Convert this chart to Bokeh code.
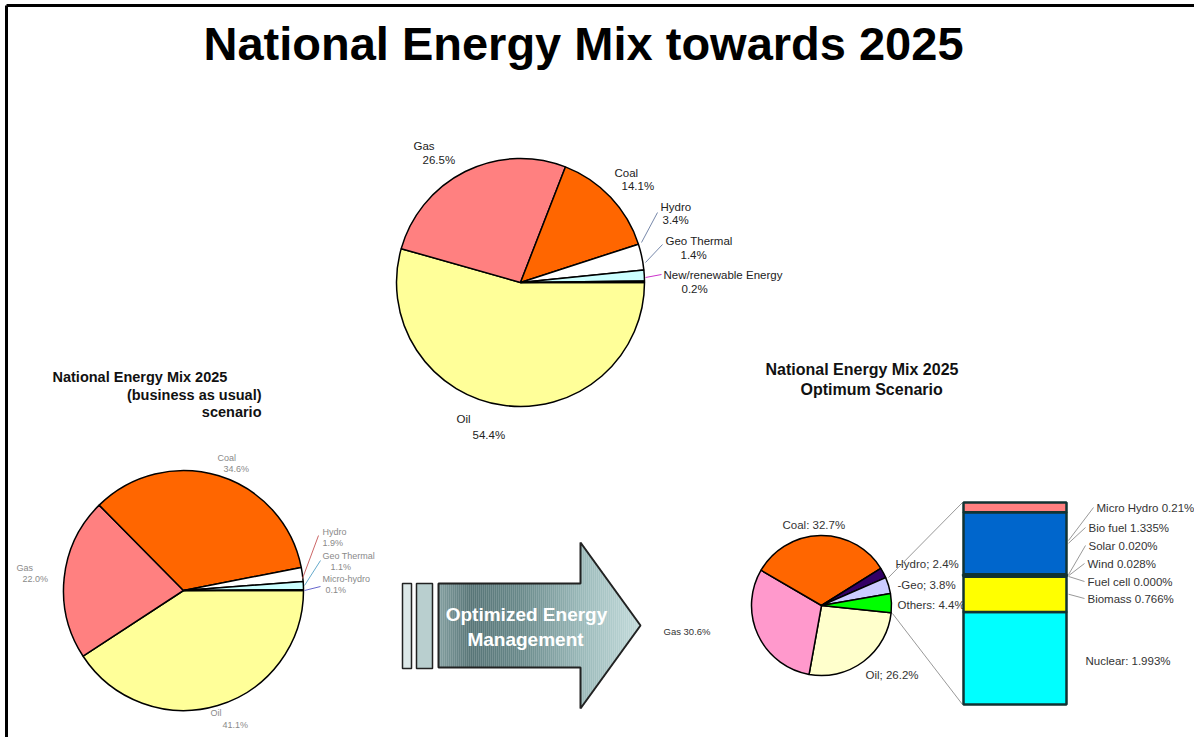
import numpy as np
from bokeh.plotting import figure
from bokeh.models import Range1d, ColumnDataSource
from bokeh.core.properties import value
from bokeh.embed import file_html
from bokeh.resources import INLINE

# ---------------- data ----------------
title = "National Energy Mix towards 2025"

# current mix (top pie)
now_labels = ["Oil", "Gas", "Coal", "Hydro", "Geo Thermal", "New/renewable Energy"]
now_values = [54.4, 26.5, 14.1, 3.4, 1.4, 0.2]
now_colors = ["#ffff99", "#ff8080", "#ff6600", "#ffffff", "#ccffff", "#4d0a4d"]

# 2025 business as usual (bottom-left pie)
bau_labels = ["Oil", "Gas", "Coal", "Hydro", "Geo Thermal", "Micro-hydro"]
bau_values = [41.1, 22.0, 34.6, 1.9, 1.1, 0.1]
bau_colors = ["#ffff99", "#ff8080", "#ff6600", "#ffffff", "#ccffff", "#4d0a4d"]

# 2025 optimum scenario (bottom-right pie)
opt_labels = ["Oil", "Gas", "Coal", "Hydro", "Geo", "Others"]
opt_values = [26.2, 30.6, 32.7, 2.4, 3.8, 4.4]
opt_colors = ["#ffffcc", "#ff99cc", "#ff6600", "#330066", "#ccccff", "#00ff00"]

# breakdown of "Others" (stacked bar, bottom to top)
oth_labels = ["Nuclear", "Biomass", "Fuel cell", "Wind", "Solar", "Bio fuel", "Micro Hydro"]
oth_values = [1.993, 0.766, 0.000, 0.028, 0.020, 1.335, 0.21]
oth_text = ["Nuclear: 1.993%", "Biomass 0.766%", "Fuel cell 0.000%", "Wind 0.028%",
            "Solar 0.020%", "Bio fuel 1.335%", "Micro Hydro 0.21%"]
oth_colors = ["#00ffff", "#ffff00", "#ccffcc", "#99ccff", "#ffcc00", "#0066cc", "#ff8080"]

# ---------------- figure ----------------
W, H = 1194, 737
p = figure(width=W, height=H, x_range=Range1d(0, W), y_range=Range1d(0, H),
           output_backend="svg", toolbar_location=None, min_border=0)
p.axis.visible = False
p.grid.visible = False
p.outline_line_color = None
p.background_fill_color = "white"
p.border_fill_color = "white"

FONT = value("Liberation Sans")


def Y(yi):
    return H - yi


def txt(x, yi, s, size=10, color="#222222", align="left", bold=False, base="middle"):
    p.text(x=[x], y=[Y(yi)], text=[s], text_font=FONT, text_font_size=f"{size}px",
           text_color=color, text_align=align, text_baseline=base,
           text_font_style="bold" if bold else "normal")


def pie(cx, cyi, r, vals, cols, start_deg):
    v = np.array(vals, dtype=float)
    frac = v / v.sum()
    bounds = np.radians(start_deg) - np.concatenate([[0], np.cumsum(frac)]) * 2 * np.pi
    src = ColumnDataSource(dict(start=bounds[1:], end=bounds[:-1], color=cols))
    p.wedge(x=cx, y=Y(cyi), radius=r, start_angle="start", end_angle="end",
            direction="anticlock", fill_color="color", line_color="black",
            line_width=1.5, source=src)


def seg(xs, yis, color="#666666", w=1):
    p.line(x=xs, y=[Y(v) for v in yis], line_color=color, line_width=w)


# frame
seg([6, 6], [5, 737], color="black", w=3)
seg([6, 1194], [5, 5], color="black", w=3)

# title
txt(583, 43, title, size=47, color="#000000", align="center", bold=True)

# ---- top pie ----
pie(520, 282, 124, now_values, now_colors, 0)
ts = 11.5
txt(413, 145, "Gas", ts)
txt(422, 159, "26.5%", ts)
txt(614, 172, "Coal", ts)
txt(621, 185, "14.1%", ts)
txt(660, 206, "Hydro", ts)
txt(662, 219, "3.4%", ts)
txt(665, 240, "Geo Thermal", ts)
txt(680, 254, "1.4%", ts)
txt(663, 274, "New/renewable Energy", ts)
txt(681, 288, "0.2%", ts)
txt(456, 418, "Oil", ts)
txt(472, 434, "54.4%", ts)
seg([641, 657], [242, 212], color="#7788aa")
seg([645, 662], [262, 244], color="#7788aa")
seg([645, 661], [277, 274], color="#cc33cc")

# ---- bottom-left pie ----
txt(52, 376, "National Energy Mix 2025", 14.5, "#111111", bold=True)
txt(261, 394, "(business as usual)", 14.5, "#111111", align="right", bold=True)
txt(261, 411, "scenario", 14.5, "#111111", align="right", bold=True)
pie(183, 590, 120, bau_values, bau_colors, 0)
g = "#8a8a8a"
bs = 9
txt(217, 457, "Coal", bs, g)
txt(223, 468, "34.6%", bs, g)
txt(322, 531, "Hydro", bs, g)
txt(322, 542, "1.9%", bs, g)
txt(322, 555, "Geo Thermal", bs, g)
txt(330, 566, "1.1%", bs, g)
txt(322, 578, "Micro-hydro", bs, g)
txt(325, 589, "0.1%", bs, g)
txt(16, 567, "Gas", bs, g)
txt(22, 578, "22.0%", bs, g)
txt(210, 712, "Oil", bs, g)
txt(222, 724, "41.1%", bs, g)
seg([302, 318], [578, 535], color="#cc6666")
seg([304, 320], [585, 560], color="#66aacc")
seg([304, 320], [590, 586], color="#6666cc")

# ---- arrow ----
for x0, x1, fc in [(402, 411, "#dce8e8"), (416, 432, "#b9cfcf")]:
    p.quad(left=[x0], right=[x1], top=[Y(583)], bottom=[Y(668)],
           fill_color=fc, line_color="#222222", line_width=1.5)

stops_x = [438, 470, 520, 580, 640]
stops_c = [(0x84, 0xa0, 0xa1), (0x58, 0x75, 0x77), (0x6a, 0x8a, 0x8b),
           (0x9a, 0xb9, 0xb9), (0xc4, 0xdc, 0xdc)]
xs = np.arange(438, 640, 2)
lefts, rights, tops, bots, cols = [], [], [], [], []
for x in xs:
    xm = x + 1
    if xm < 580:
        half = 42
    else:
        half = 83 * (640 - xm) / 60.0
    rgb = [int(np.interp(xm, stops_x, [c[k] for c in stops_c])) for k in range(3)]
    lefts.append(x)
    rights.append(x + 2.2)
    tops.append(Y(625 - half))
    bots.append(Y(625 + half))
    cols.append("#%02x%02x%02x" % tuple(rgb))
p.quad(left=lefts, right=rights, top=tops, bottom=bots, fill_color=cols,
       line_color=None)
ax = [438, 580, 580, 640, 580, 580, 438]
ay = [583, 583, 542, 625, 708, 667, 667]
p.patch(x=ax, y=[Y(v) for v in ay], fill_color=None, line_color="#222222", line_width=2)
txt(526, 614, "Optimized Energy", 19, "white", align="center", bold=True)
txt(525, 639, "Management", 19, "white", align="center", bold=True)

# ---- bottom-right pie ----
txt(765, 369, "National Energy Mix 2025", 16, "#111111", bold=True)
txt(800, 389, "Optimum Scenario", 16, "#111111", bold=True)
pie(821, 605, 70, opt_values, opt_colors, -6)
d = "#333333"
rs = 11.5
txt(663, 631, "Gas 30.6%", 9.5, d)
txt(782, 524, "Coal: 32.7%", rs, d)
txt(895, 563, "Hydro; 2.4%", rs, d)
txt(897, 584, "-Geo; 3.8%", rs, d)
txt(897, 604, "Others: 4.4%", rs, d)
txt(865, 674, "Oil; 26.2%", rs, d)

# connection lines from "Others" slice to bar
seg([888, 962], [577, 502], color="#999999")
seg([892, 962], [613, 704], color="#999999")

# ---- stacked bar ----
ov = np.array(oth_values)
scale = 202.0 / ov.sum()
cum = np.concatenate([[0], np.cumsum(ov)]) * scale
bsrc = ColumnDataSource(dict(bottom=Y(704) + cum[:-1], top=Y(704) + cum[1:], color=oth_colors))
p.quad(left=963, right=1066, bottom="bottom", top="top", fill_color="color",
       line_color="#113333", line_width=2.5, source=bsrc)

label_y = {"Micro Hydro": 507, "Bio fuel": 527, "Solar": 545, "Wind": 563,
           "Fuel cell": 581, "Biomass": 598, "Nuclear": 660}
label_x = {"Micro Hydro": 1096, "Bio fuel": 1088, "Solar": 1088, "Wind": 1087,
           "Fuel cell": 1087, "Biomass": 1087, "Nuclear": 1085}
for name, s, b, t in zip(oth_labels, oth_text, cum[:-1], cum[1:]):
    ly = label_y[name]
    txt(label_x[name], ly, s, rs, d)
    if name == "Nuclear":
        continue
    mid = 704 - (b + t) / 2.0
    if name == "Micro Hydro":
        mid = 540
    seg([1068, label_x[name] - 3], [mid, ly], color="#999999")

open("out.html", "w").write(file_html(p, INLINE))
